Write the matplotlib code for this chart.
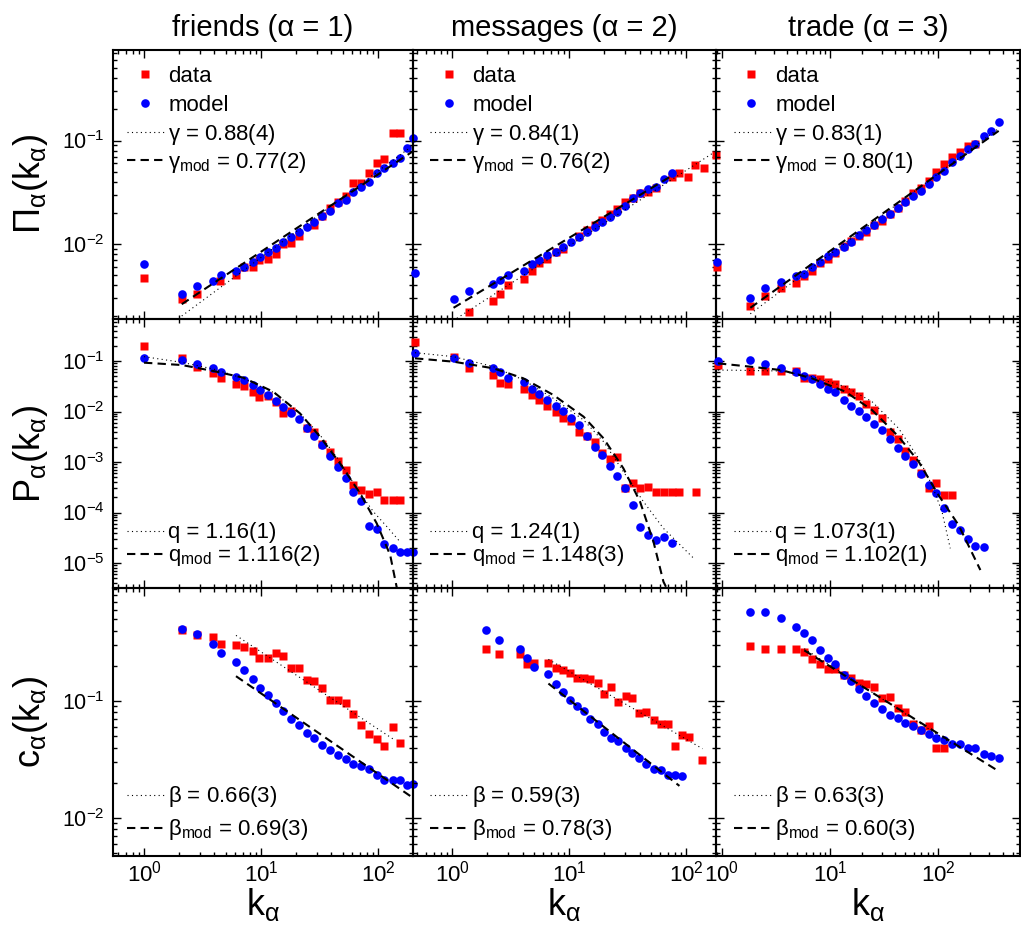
import numpy as np
import matplotlib
matplotlib.use("Agg")
import matplotlib.pyplot as plt
from matplotlib.ticker import LogLocator, NullFormatter

plt.rcParams['font.family'] = ['Liberation Sans', 'DejaVu Sans']
plt.rcParams['mathtext.fontset'] = 'custom'
plt.rcParams['mathtext.rm'] = 'Liberation Sans'
plt.rcParams['mathtext.default'] = 'regular'

TITLES = ['friends (α = 1)', 'messages (α = 2)', 'trade (α = 3)']
YLABELS = [r'$\Pi_\alpha(k_\alpha)$', r'$P_\alpha(k_\alpha)$', r'$c_\alpha(k_\alpha)$']
XLABEL = r'$k_\alpha$'

GAMMA = ['0.88(4)', '0.84(1)', '0.83(1)']
GAMMA_MOD = ['0.77(2)', '0.76(2)', '0.80(1)']
Q = ['1.16(1)', '1.24(1)', '1.073(1)']
Q_MOD = ['1.116(2)', '1.148(3)', '1.102(1)']
BETA = ['0.66(3)', '0.59(3)', '0.63(3)']
BETA_MOD = ['0.69(3)', '0.78(3)', '0.60(3)']

# ---- attachment probability Pi(k) ----
PI1_DATA_K = [1.0, 2.1, 2.86, 4.46, 6.11, 7.2, 8.49, 9.68, 11.4, 13.3, 15.5, 18.0, 21.1, 28.6, 33.4,
              38.6, 45.1, 52.9, 61.5, 71.6, 83.2, 97.5, 113, 133, 153]
PI1_DATA = [0.0047, 0.0029, 0.0033, 0.0044, 0.0050, 0.0060, 0.0060, 0.0070, 0.0071, 0.0080, 0.0100,
            0.0101, 0.0120, 0.0152, 0.0187, 0.0224, 0.0256, 0.0292, 0.0385, 0.0391, 0.0489, 0.0601,
            0.0657, 0.119, 0.117]
PI1_MODEL_K = [1.0, 2.1, 2.86, 3.86, 4.52, 6.11, 7.2, 8.49, 9.8, 11.4, 13.3, 15.5, 18.0, 21.1, 24.6,
               28.6, 33.4, 38.6, 45.1, 52.9, 61.5, 71.6, 83.2, 97.5, 113, 133, 153, 178, 200]
PI1_MODEL = [0.0064, 0.0033, 0.0039, 0.0044, 0.0050, 0.0054, 0.0060, 0.0067, 0.0074, 0.0083, 0.0092,
             0.0105, 0.0116, 0.0129, 0.0144, 0.0164, 0.0186, 0.0209, 0.0247, 0.0265, 0.0320, 0.0357,
             0.0400, 0.0481, 0.0546, 0.0610, 0.0672, 0.0840, 0.105]
PI1_FIT_K = [2.1, 200]
PI1_FIT = [0.0020, 0.090]
PI1_FITMOD_K = [2.1, 200]
PI1_FITMOD = [0.0026, 0.079]

PI2_DATA_K = [1.41, 2.26, 2.59, 3.03, 4.15, 4.86, 5.58, 6.49, 7.69, 8.95, 12.1, 14.2, 16.5, 19.3,
              22.3, 25.9, 30.1, 34.9, 40.7, 47.6, 55.7, 76.4, 87.7, 103, 119, 141, 180]
PI2_DATA = [0.0022, 0.0028, 0.0033, 0.0040, 0.0046, 0.0055, 0.0065, 0.0072, 0.0083, 0.0090, 0.0119,
            0.0136, 0.0152, 0.0170, 0.0193, 0.0216, 0.0256, 0.0275, 0.0308, 0.0320, 0.0344, 0.0447,
            0.0481, 0.0440, 0.0579, 0.0538, 0.0724]
PI2_MODEL_K = [0.483, 1.03, 1.41, 2.26, 2.59, 3.03, 4.15, 4.86, 5.58, 6.49, 7.69, 8.95, 10.4, 12.1,
               14.2, 16.5, 19.3, 22.3, 25.9, 30.1, 34.9, 40.7, 47.6, 55.7, 64.9, 76.4]
PI2_MODEL = [0.0052, 0.0029, 0.0035, 0.0041, 0.0045, 0.0050, 0.0055, 0.0064, 0.0070, 0.0078, 0.0084,
             0.0094, 0.0103, 0.0117, 0.0129, 0.0147, 0.0161, 0.0183, 0.0205, 0.0234, 0.0280, 0.0308,
             0.0339, 0.0357, 0.0424, 0.0489]
PI2_FIT_K = [1.1, 180]
PI2_FIT = [0.0019, 0.079]
PI2_FITMOD_K = [1.03, 76.4]
PI2_FITMOD = [0.0024, 0.046]

PI3_DATA_K = [0.90, 1.83, 2.52, 3.52, 4.88, 5.78, 6.81, 8.02, 9.51, 11.2, 13.4, 15.8, 18.4, 21.7,
              25.7, 30.3, 35.9, 42.3, 49.8, 58.7, 69.6, 82.0, 96.5, 114, 135, 161, 190, 222]
PI3_DATA = [0.0060, 0.0025, 0.0031, 0.0037, 0.0042, 0.0049, 0.0054, 0.0065, 0.0072, 0.0081, 0.0095,
            0.0106, 0.0119, 0.0131, 0.0152, 0.0168, 0.0194, 0.0220, 0.0262, 0.0308, 0.0344, 0.0406,
            0.0492, 0.0592, 0.0687, 0.0780, 0.0885, 0.0918]
PI3_MODEL_K = [0.90, 1.83, 2.52, 3.52, 4.88, 5.78, 6.81, 8.02, 9.51, 11.2, 13.4, 15.8, 18.4, 21.7,
               25.7, 30.3, 35.9, 42.3, 49.8, 58.7, 69.6, 82.0, 96.5, 114, 135, 161, 190, 222, 265,
               310, 365]
PI3_MODEL = [0.0067, 0.0030, 0.0037, 0.0043, 0.0049, 0.0051, 0.0059, 0.0067, 0.0076, 0.0083, 0.0094,
             0.0105, 0.0122, 0.0136, 0.0152, 0.0173, 0.0193, 0.0220, 0.0252, 0.0290, 0.0327, 0.0377,
             0.0440, 0.0507, 0.0615, 0.0708, 0.0827, 0.0925, 0.111, 0.124, 0.152]
PI3_FIT_K = [1.83, 365]
PI3_FIT = [0.0021, 0.131]
PI3_FITMOD_K = [1.83, 365]
PI3_FITMOD = [0.0024, 0.124]

# ---- degree distribution P(k) ----
P1_DATA_K = [1.0, 2.1, 2.86, 3.91, 4.52, 6.11, 7.2, 8.49, 9.68, 11.4, 13.3, 15.5, 18.0, 24.6, 28.6,
             33.4, 38.6, 45.1, 52.9, 61.5, 71.6, 83.2, 97.5, 113, 133, 153]
P1_DATA = [0.198, 0.113, 0.0772, 0.0570, 0.0454, 0.0345, 0.0320, 0.0247, 0.0197, 0.0203, 0.0152,
           0.0092, 0.0102, 0.00479, 0.00399, 0.00224, 0.00160, 0.00106, 0.000695, 0.000350,
           0.000279, 0.000229, 0.000259, 0.000177, 0.000177, 0.000177]
P1_MODEL_K = [1.0, 2.1, 2.86, 3.91, 4.52, 6.11, 7.2, 8.49, 9.8, 11.4, 13.3, 15.5, 18.0, 21.1, 24.6,
              28.6, 33.4, 38.6, 45.1, 52.9, 61.5, 71.6, 83.2, 97.5, 113, 133, 153, 178, 199]
P1_MODEL = [0.116, 0.105, 0.0859, 0.0716, 0.0597, 0.0489, 0.0421, 0.0335, 0.0267, 0.0212, 0.0161,
            0.0125, 0.00948, 0.00700, 0.00464, 0.00327, 0.00217, 0.00131, 0.000809, 0.000475,
            0.000259, 0.000172, 5.41e-5, 4.64e-5, 2.34e-5, 1.95e-5, 1.68e-5, 1.68e-5, 1.68e-5]
P1_FIT_K = [1.0, 2.1, 3.91, 7.06, 12.7, 21.5, 31.9, 47.3, 65.7, 91.2, 119, 154]
P1_FIT = [0.122, 0.0941, 0.0695, 0.0454, 0.0240, 0.0092, 0.00343, 0.00102, 0.000301, 0.000104,
          5.25e-5, 2.64e-5]
P1_FITMOD_K = [1.0, 2.1, 3.91, 7.06, 12.7, 21.5, 31.9, 47.3, 70.2, 97.4, 127, 147]
P1_FITMOD = [0.0927, 0.0833, 0.0634, 0.0468, 0.0247, 0.0092, 0.00318, 0.000941, 0.000240, 6.10e-5,
             1.44e-5, 2.7e-6]

P2_DATA_K = [0.483, 1.03, 1.41, 2.26, 2.59, 3.03, 4.15, 4.86, 5.58, 6.49, 7.69, 8.95, 10.4, 12.1,
             14.2, 16.5, 19.3, 22.3, 25.9, 30.1, 34.9, 40.7, 47.6, 55.7, 64.9, 76.4, 87.7, 121]
P2_DATA = [0.235, 0.122, 0.0716, 0.0528, 0.0361, 0.0351, 0.0279, 0.0212, 0.0169, 0.0130, 0.0099,
           0.0073, 0.0065, 0.0040, 0.0032, 0.0025, 0.00153, 0.00115, 0.00124, 0.000310, 0.000390,
           0.000310, 0.000325, 0.000251, 0.000251, 0.000251, 0.000251, 0.000251]
P2_MODEL_K = [0.483, 1.03, 1.41, 2.26, 2.59, 3.03, 4.15, 4.86, 5.58, 6.49, 7.69, 8.95, 10.4, 12.1,
              14.2, 16.5, 19.3, 22.3, 25.9, 30.1, 34.9, 40.7, 47.6, 55.7, 64.9, 76.4]
P2_MODEL = [0.146, 0.116, 0.0927, 0.0716, 0.0597, 0.0468, 0.0378, 0.0279, 0.0222, 0.0169, 0.0130,
            0.0104, 0.0073, 0.0054, 0.0033, 0.00195, 0.00138, 0.000833, 0.000536, 0.000310,
            0.000141, 5.08e-5, 3.58e-5, 2.85e-5, 3.32e-5, 2.45e-5]
P2_FIT_K = [0.483, 1.03, 2.26, 4.07, 7.35, 13.3, 19.7, 29.1, 43.2, 64.0, 116]
P2_FIT = [0.146, 0.122, 0.0772, 0.0421, 0.0182, 0.00679, 0.00253, 0.000644, 0.000164, 4.86e-5,
          1.24e-5]
P2_FITMOD_K = [0.483, 1.03, 2.26, 4.07, 7.35, 13.3, 19.7, 29.1, 40.4, 52.6, 64.0, 70.6]
P2_FITMOD = [0.113, 0.0970, 0.0716, 0.0454, 0.0212, 0.0079, 0.00294, 0.000750, 0.000164, 2.64e-5,
             4.27e-6, 2.7e-6]

P3_DATA_K = [0.918, 1.83, 2.52, 3.52, 4.88, 5.78, 6.81, 8.02, 9.51, 11.2, 13.4, 15.8, 18.4, 21.7,
             25.7, 30.3, 35.9, 42.3, 49.8, 58.7, 69.6, 82.0, 96.5, 114, 135]
P3_DATA = [0.0833, 0.0634, 0.0634, 0.0634, 0.0634, 0.0468, 0.0468, 0.0440, 0.0378, 0.0345, 0.0279,
           0.0247, 0.0203, 0.0141, 0.0107, 0.0073, 0.0040, 0.0029, 0.00165, 0.00110, 0.000597,
           0.000310, 0.000378, 0.000222, 0.000222]
P3_MODEL_K = [0.918, 1.83, 2.52, 3.52, 4.88, 5.78, 6.81, 8.02, 9.51, 11.2, 13.4, 15.8, 18.4, 21.7,
              25.7, 30.3, 35.9, 42.3, 49.8, 58.7, 69.6, 82.0, 96.5, 114, 135, 161, 190, 222, 265]
P3_MODEL = [0.100, 0.105, 0.0872, 0.0716, 0.0615, 0.0505, 0.0434, 0.0345, 0.0279, 0.0247, 0.0169,
            0.0130, 0.0104, 0.0079, 0.0057, 0.0043, 0.0029, 0.00192, 0.00133, 0.000899, 0.000570,
            0.000350, 0.000247, 0.000121, 5.92e-5, 4.50e-5, 2.99e-5, 2.20e-5, 2.10e-5]
P3_FIT_K = [0.918, 1.83, 3.52, 6.81, 13.9, 24.5, 43.2, 66.2, 88.0, 109, 130]
P3_FIT = [0.0663, 0.065, 0.0634, 0.0489, 0.0310, 0.0157, 0.00464, 0.00118, 0.000350, 0.000104,
          1.95e-5]
P3_FITMOD_K = [0.918, 1.83, 3.52, 6.81, 13.9, 24.5, 43.2, 66.2, 101, 155, 247]
P3_FITMOD = [0.0899, 0.0772, 0.0663, 0.0454, 0.0247, 0.0107, 0.00318, 0.00102, 0.000222, 5.66e-5,
             7.26e-6]

# ---- clustering c(k) ----
C1_DATA_K = [2.1, 2.86, 3.91, 4.52, 6.11, 7.2, 8.49, 9.68, 11.4, 13.3, 15.5, 18.0, 21.1, 24.6, 28.6,
             33.4, 38.6, 45.1, 52.9, 61.5, 71.6, 83.2, 97.5, 113, 133, 153]
C1_DATA = [0.407, 0.364, 0.352, 0.305, 0.299, 0.289, 0.266, 0.233, 0.233, 0.257, 0.243, 0.193, 0.193,
           0.150, 0.147, 0.129, 0.103, 0.103, 0.0961, 0.0769, 0.0619, 0.0519, 0.0470, 0.0410,
           0.0600, 0.0438]
C1_MODEL_K = [2.1, 2.86, 3.91, 4.52, 6.11, 7.2, 8.49, 9.8, 11.4, 13.3, 15.5, 18.0, 21.1, 24.6, 28.6,
              33.4, 38.6, 45.1, 52.9, 61.5, 71.6, 83.2, 97.5, 113, 133, 153, 178, 199]
C1_MODEL = [0.410, 0.376, 0.309, 0.257, 0.215, 0.183, 0.153, 0.129, 0.113, 0.0961, 0.0821, 0.0706,
            0.0628, 0.0536, 0.0483, 0.0418, 0.0384, 0.0343, 0.0321, 0.0287, 0.0278, 0.0264, 0.0235,
            0.0213, 0.0210, 0.0213, 0.0190, 0.0197]
C1_FIT_K = [6.11, 140]
C1_FIT = [0.364, 0.0461]
C1_FITMOD_K = [6.11, 200]
C1_FITMOD = [0.163, 0.0148]

C2_DATA_K = [1.94, 2.54, 3.81, 4.40, 5.05, 6.66, 7.69, 8.83, 10.1, 11.6, 13.3, 15.2, 17.6, 20.0,
             23.0, 26.4, 30.5, 34.8, 39.9, 45.8, 52.9, 60.8, 69.5, 80.0, 91.8, 105, 138]
C2_DATA = [0.280, 0.251, 0.251, 0.208, 0.211, 0.211, 0.193, 0.183, 0.175, 0.158, 0.158, 0.153, 0.143,
           0.114, 0.132, 0.0982, 0.110, 0.106, 0.0789, 0.0805, 0.0684, 0.0640, 0.0632, 0.0410,
           0.0509, 0.0492, 0.0311]
C2_MODEL_K = [1.94, 2.54, 3.81, 4.40, 5.05, 6.66, 7.69, 8.83, 10.1, 11.6, 13.3, 15.2, 17.6, 20.0,
              23.0, 26.4, 30.5, 34.8, 39.9, 45.8, 52.9, 60.8, 69.5, 80.0, 91.8]
C2_MODEL = [0.407, 0.334, 0.280, 0.233, 0.195, 0.169, 0.139, 0.119, 0.103, 0.0906, 0.0821, 0.0697,
            0.0640, 0.0543, 0.0486, 0.0452, 0.0399, 0.0360, 0.0328, 0.0291, 0.0264, 0.0255, 0.0235,
            0.0235, 0.0227]
C2_FIT_K = [6.66, 138]
C2_FIT = [0.227, 0.0391]
C2_FITMOD_K = [6.66, 87.7]
C2_FITMOD = [0.141, 0.0188]

C3_DATA_K = [1.83, 2.52, 3.52, 4.88, 5.78, 6.81, 8.02, 9.51, 11.2, 13.4, 15.8, 18.4, 21.7, 25.7,
             30.3, 35.9, 42.3, 49.8, 58.7, 69.6, 82.0, 96.5, 114]
C3_DATA = [0.293, 0.277, 0.277, 0.277, 0.262, 0.230, 0.208, 0.187, 0.187, 0.168, 0.157, 0.143, 0.139,
           0.133, 0.106, 0.108, 0.0871, 0.0805, 0.0640, 0.0561, 0.0611, 0.0399, 0.0396]
C3_MODEL_K = [1.83, 2.52, 3.52, 4.88, 5.78, 6.81, 8.02, 9.51, 11.2, 13.4, 15.8, 18.4, 21.7, 25.7,
              30.3, 35.9, 42.3, 49.8, 58.7, 69.6, 82.0, 96.5, 114, 135, 161, 190, 222, 265, 310, 365]
C3_MODEL = [0.577, 0.577, 0.512, 0.429, 0.381, 0.330, 0.275, 0.234, 0.206, 0.168, 0.147, 0.127,
            0.110, 0.0968, 0.0860, 0.0764, 0.0720, 0.0653, 0.0608, 0.0569, 0.0519, 0.0486, 0.0467,
            0.0432, 0.0426, 0.0399, 0.0396, 0.0350, 0.0339, 0.0326]
C3_FIT_K = [5.78, 135]
C3_FIT = [0.280, 0.043]
C3_FITMOD_K = [5.78, 365]
C3_FITMOD = [0.271, 0.0251]

PANELS = [
    [(PI1_DATA_K, PI1_DATA, PI1_MODEL_K, PI1_MODEL, PI1_FIT_K, PI1_FIT, PI1_FITMOD_K, PI1_FITMOD),
     (PI2_DATA_K, PI2_DATA, PI2_MODEL_K, PI2_MODEL, PI2_FIT_K, PI2_FIT, PI2_FITMOD_K, PI2_FITMOD),
     (PI3_DATA_K, PI3_DATA, PI3_MODEL_K, PI3_MODEL, PI3_FIT_K, PI3_FIT, PI3_FITMOD_K, PI3_FITMOD)],
    [(P1_DATA_K, P1_DATA, P1_MODEL_K, P1_MODEL, P1_FIT_K, P1_FIT, P1_FITMOD_K, P1_FITMOD),
     (P2_DATA_K, P2_DATA, P2_MODEL_K, P2_MODEL, P2_FIT_K, P2_FIT, P2_FITMOD_K, P2_FITMOD),
     (P3_DATA_K, P3_DATA, P3_MODEL_K, P3_MODEL, P3_FIT_K, P3_FIT, P3_FITMOD_K, P3_FITMOD)],
    [(C1_DATA_K, C1_DATA, C1_MODEL_K, C1_MODEL, C1_FIT_K, C1_FIT, C1_FITMOD_K, C1_FITMOD),
     (C2_DATA_K, C2_DATA, C2_MODEL_K, C2_MODEL, C2_FIT_K, C2_FIT, C2_FITMOD_K, C2_FITMOD),
     (C3_DATA_K, C3_DATA, C3_MODEL_K, C3_MODEL, C3_FIT_K, C3_FIT, C3_FITMOD_K, C3_FITMOD)],
]

XLIMS = [(0.543, 199), (0.464, 180), (0.880, 575)]
YLIMS = [(0.00187, 0.752), (3.2e-6, 0.679), (0.00473, 0.925)]

# layout in pixels of a 1021x939 canvas
W, H = 1021, 939
COL_X = [(113, 413), (413, 716), (716, 1020)]
ROW_Y = [(50, 319), (319, 588), (588, 856)]

# legend key geometry (axes fraction): line start, line end, marker x, text x
KEY_X = [(0.047, 0.180, 0.107, 0.185), (0.056, 0.188, 0.120, 0.195), (0.058, 0.190, 0.116, 0.195)]

DOTTED = dict(color='black', ls=(0, (1, 3)), lw=0.8)
DASHED = dict(color='black', ls=(0, (4, 2.5)), lw=1.5)
SQ = dict(marker='s', ls='none', color='#ff0000', ms=5.6, mec='none')
DOT = dict(marker='o', ls='none', color='#0000ff', ms=6.2, mec='none')

fig = plt.figure(figsize=(W / 100, H / 100), dpi=100)


def key_text(ax, x, y, s):
    ax.annotate(s, xy=(x, y), xycoords='axes fraction', xytext=(0, -5.4),
                textcoords='offset points', ha='left', va='baseline', fontsize=16)


for r in range(3):
    for c in range(3):
        x0, x1 = COL_X[c]
        y0, y1 = ROW_Y[r]
        ax = fig.add_axes([x0 / W, 1 - y1 / H, (x1 - x0) / W, (y1 - y0) / H])
        ax.patch.set_visible(False)
        ax.set_xscale('log')
        ax.set_yscale('log')

        dk, dv, mk, mv, fk, fv, gk, gv = PANELS[r][c]
        ax.plot(dk, dv, clip_on=False, zorder=3, **SQ)
        ax.plot(mk, mv, clip_on=False, zorder=3, **DOT)
        ax.plot(fk, fv, zorder=4, **DOTTED)
        ax.plot(gk, gv, zorder=4, **DASHED)

        ax.set_xlim(XLIMS[c])
        ax.set_ylim(YLIMS[r])

        for axis in (ax.xaxis, ax.yaxis):
            axis.set_major_locator(LogLocator(base=10, numticks=30))
            axis.set_minor_locator(LogLocator(base=10, subs=np.arange(2, 10), numticks=30))
            axis.set_minor_formatter(NullFormatter())
        ax.tick_params(which='both', direction='in', top=True, right=True, width=1.0)
        ax.tick_params(which='major', length=6)
        ax.tick_params(which='minor', length=3)
        ax.tick_params(axis='y', labelsize=15.5, pad=6)
        ax.tick_params(axis='x', labelsize=16, pad=3)
        for sp in ax.spines.values():
            sp.set_linewidth(1.5)

        if r < 2:
            ax.tick_params(axis='x', labelbottom=False)
        else:
            ax.set_xlabel(XLABEL, fontsize=26)
            ax.xaxis.set_label_coords(0.5, -0.112)
        if c > 0:
            ax.tick_params(axis='y', labelleft=False)
        else:
            ax.set_ylabel(YLABELS[r], fontsize=26)
            ax.yaxis.set_label_coords(-0.21, 0.5)
        if r == 0:
            ax.set_title(TITLES[c], fontsize=21, pad=10)

        lx0, lx1, mx, tx = KEY_X[c]
        if r == 0:
            ys = [0.910, 0.802, 0.694, 0.591]
            ax.plot([mx], [ys[0]], transform=ax.transAxes, **SQ)
            key_text(ax, tx, ys[0], 'data')
            ax.plot([mx], [ys[1]], transform=ax.transAxes, **DOT)
            key_text(ax, tx, ys[1], 'model')
            fit_lbl = r'$\gamma$ = ' + GAMMA[c]
            mod_lbl = r'$\gamma_{mod}$ = ' + GAMMA_MOD[c]
            ys = ys[2:]
        elif r == 1:
            ys = [0.212, 0.127]
            fit_lbl = 'q = ' + Q[c]
            mod_lbl = r'$q_{mod}$ = ' + Q_MOD[c]
        else:
            ys = [0.228, 0.106]
            fit_lbl = r'$\beta$ = ' + BETA[c]
            mod_lbl = r'$\beta_{mod}$ = ' + BETA_MOD[c]
        ax.plot([lx0, lx1], [ys[0], ys[0]], transform=ax.transAxes, **DOTTED)
        key_text(ax, tx, ys[0], fit_lbl)
        ax.plot([lx0, lx1], [ys[1], ys[1]], transform=ax.transAxes, **DASHED)
        key_text(ax, tx, ys[1], mod_lbl)

fig.savefig('out.png', dpi=100, facecolor='white')
